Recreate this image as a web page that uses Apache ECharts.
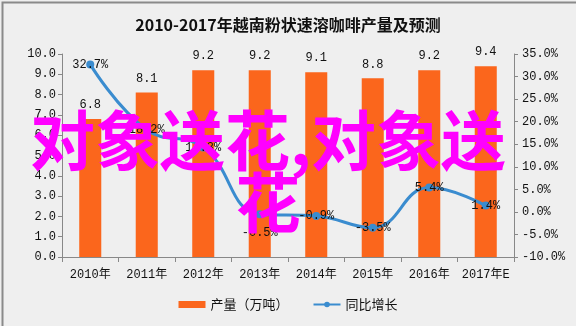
<!DOCTYPE html>
<html>
<head>
<meta charset="utf-8">
<script src="https://cdn.jsdelivr.net/npm/echarts@6/dist/echarts.min.js"></script>
<style>
  html, body { margin: 0; padding: 0; background: #efefef; }
  #chart { width: 576px; height: 326px; }
</style>
</head>
<body>
<div id="chart"></div>
<script>
// 2010-2017 output of instant coffee powder in Vietnam, with year-on-year growth
const years = ['2010年', '2011年', '2012年', '2013年', '2014年', '2015年', '2016年', '2017年E'];
const output = [6.8, 8.1, 9.2, 9.2, 9.1, 8.8, 9.2, 9.4];          // 万吨
const growth = [32.7, 18.2, 14.3, -0.5, -0.9, -3.5, 5.4, 1.4];     // %
const titleText = '2010-2017年越南粉状速溶咖啡产量及预测';
const overlayText = '对象送花,对象送\n花';

const mono = "'Liberation Mono', 'Noto Sans CJK SC', monospace";
const cjk = "'Noto Sans CJK SC', sans-serif";

const chart = echarts.init(document.getElementById('chart'), null, { renderer: 'canvas' });

const growthData = growth.map((v, i) => (
  i === 3 ? { value: v, label: { position: 'bottom', offset: [0, 4] } } : v
));

chart.setOption({
  backgroundColor: '#efefef',
  animation: false,
  title: {
    text: titleText,
    left: 'center',
    top: 12,
    textStyle: { fontFamily: cjk, fontSize: 16, fontWeight: 'bold', color: '#111' }
  },
  legend: {
    bottom: 10,
    left: 'center',
    itemGap: 24,
    itemWidth: 27,
    itemHeight: 7,
    textStyle: { fontFamily: cjk, fontSize: 13, color: '#111' },
    data: [
      { name: '产量（万吨）', icon: 'rect' },
      { name: '同比增长' }
    ]
  },
  grid: { left: 62, right: 62, top: 54, bottom: 69 },
  xAxis: {
    type: 'category',
    data: years,
    boundaryGap: true,
    axisLine: { lineStyle: { color: '#888', width: 1 } },
    axisTick: { show: true, alignWithLabel: false, interval: 0, length: 5, lineStyle: { color: '#888' } },
    axisLabel: { interval: 0, fontFamily: mono, fontSize: 12, color: '#111', margin: 12 }
  },
  yAxis: [
    {
      type: 'value',
      min: 0, max: 10, interval: 1,
      splitLine: { show: false },
      axisLine: { show: true, lineStyle: { color: '#888' } },
      axisTick: { show: true, length: 4, lineStyle: { color: '#888' } },
      axisLabel: { fontFamily: mono, fontSize: 12, color: '#111', margin: 6,
                   formatter: v => v.toFixed(1) }
    },
    {
      type: 'value',
      min: -10, max: 35, interval: 5,
      splitLine: { show: false },
      axisLine: { show: true, lineStyle: { color: '#888' } },
      axisTick: { show: true, length: 4, lineStyle: { color: '#888' } },
      axisLabel: { fontFamily: mono, fontSize: 12, color: '#111', margin: 8,
                   formatter: v => v.toFixed(1) + '%' }
    }
  ],
  series: [
    {
      name: '产量（万吨）',
      type: 'bar',
      data: output,
      barWidth: '39%',
      itemStyle: { color: '#fb661c' },
      label: { show: true, position: 'top', distance: 8, fontFamily: mono, fontSize: 12, color: '#111',
               formatter: p => p.value.toFixed(1) }
    },
    {
      name: '同比增长',
      type: 'line',
      yAxisIndex: 1,
      data: growthData,
      smooth: 0.45,
      symbol: 'circle',
      symbolSize: 8,
      lineStyle: { color: '#3a8ccf', width: 3 },
      itemStyle: { color: '#3a8ccf' },
      label: { show: true, position: 'inside', fontFamily: mono, fontSize: 12, color: '#111',
               formatter: p => p.value.toFixed(1) + '%' },
      z: 3
    }
  ],
  graphic: [
    {
      type: 'rect',
      left: 0, top: 0,
      shape: { width: 575, height: 325 },
      style: { fill: 'none', stroke: '#8a8a8a', lineWidth: 2 },
      silent: true, z: 100
    },
    {
      type: 'text',
      x: 268, y: 109,
      style: {
        text: overlayText,
        fill: '#ff00ff',
        font: "bold 65px 'Noto Sans CJK SC', sans-serif",
        textAlign: 'center',
        lineHeight: 62
      },
      silent: true, z: 200
    }
  ]
});
</script>
</body>
</html>
